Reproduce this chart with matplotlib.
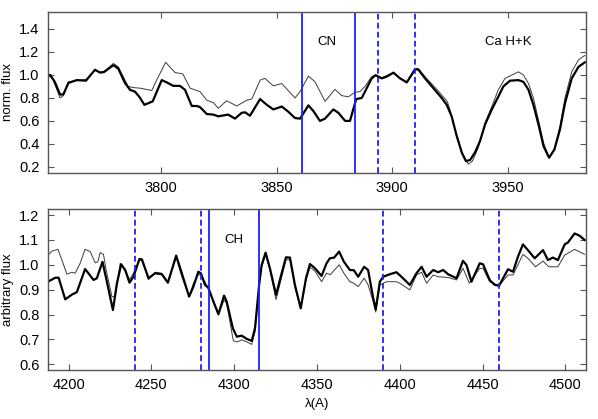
import matplotlib
matplotlib.use('Agg')
import matplotlib.pyplot as plt
import numpy as np

plt.rcParams['font.family'] = ['Liberation Sans', 'DejaVu Sans']

# top panel (CN / Ca H+K), thick = star, thin = comparison
top_wave_thick = [3751, 3752, 3754, 3756.3, 3757.7, 3759.9, 3761.3, 3763.5, 3767.5, 3771.4,
                  3773.6, 3775.3, 3779.4, 3781.5, 3784.4, 3786.6, 3788.7, 3790.6, 3792.8, 3796.4,
                  3800.3, 3802.5, 3805.3, 3808.2, 3810.4, 3813.3, 3815.5, 3816.9, 3819.8, 3822.6,
                  3824.8, 3829.1, 3832, 3834.9, 3836.4, 3838.5, 3842.9, 3845.8, 3848.6, 3852.3,
                  3855.1, 3858, 3860.2, 3863.8, 3866, 3868.8, 3871, 3874.6, 3876.8, 3879.7,
                  3881.8, 3884.5, 3886.9, 3888.3, 3891.2, 3892.9, 3895.5, 3897.7, 3900.6, 3903.5,
                  3906.4, 3910, 3911.4, 3914.3, 3917.9, 3921.5, 3923.7, 3925.8, 3928, 3930.2,
                  3932, 3933.8, 3935.9, 3938.1, 3940.3, 3943.2, 3946, 3948.2, 3951.1, 3954.7,
                  3956.9, 3959.1, 3961.2, 3963.4, 3965.6, 3968, 3970.3, 3972.7, 3974.9, 3977.8,
                  3980.7, 3983.5]
top_flux_thick = [0.99, 1.00, 0.94, 0.83, 0.83, 0.93, 0.94, 0.955, 0.95, 1.045,
                  1.02, 1.025, 1.085, 1.055, 0.93, 0.87, 0.855, 0.81, 0.74, 0.77,
                  0.955, 0.935, 0.905, 0.905, 0.87, 0.73, 0.73, 0.72, 0.66, 0.655,
                  0.64, 0.655, 0.62, 0.67, 0.675, 0.645, 0.79, 0.74, 0.70, 0.725,
                  0.68, 0.625, 0.62, 0.735, 0.685, 0.60, 0.62, 0.70, 0.67, 0.60,
                  0.60, 0.79, 0.80, 0.855, 0.97, 0.998, 0.97, 0.985, 1.02, 0.97,
                  0.935, 1.05, 1.047, 0.97, 0.885, 0.80, 0.74, 0.64, 0.47, 0.325,
                  0.25, 0.26, 0.325, 0.425, 0.57, 0.70, 0.81, 0.90, 0.95, 0.955,
                  0.94, 0.87, 0.74, 0.57, 0.38, 0.28, 0.35, 0.525, 0.755, 0.97,
                  1.07, 1.11]

top_wave_thin = [3751, 3753, 3756.3, 3757.7, 3759.9, 3764.8, 3767.5, 3771.4, 3773.6, 3775.3,
                 3779.4, 3781.5, 3785.8, 3788, 3790.9, 3796, 3798.1, 3802, 3806.1, 3809.4,
                 3812.6, 3816.9, 3819.8, 3822.6, 3824.8, 3828.4, 3832.8, 3837.1, 3839.3, 3842.9,
                 3845, 3848.6, 3852.3, 3858, 3860.2, 3863.8, 3866.7, 3871, 3875.3, 3878.2,
                 3881.1, 3884, 3886.1, 3888.3, 3891.2, 3892.9, 3895.5, 3900.6, 3903.5, 3906.4,
                 3910, 3911.4, 3914.3, 3919.6, 3923.9, 3925.1, 3928, 3930.2, 3933, 3934.8,
                 3937.4, 3940.3, 3943.2, 3946, 3948.9, 3951.8, 3954.7, 3956.9, 3959.1, 3961.2,
                 3963.4, 3965.6, 3968, 3970.3, 3972.7, 3974.9, 3977.8, 3980.7, 3983.5]
top_flux_thin = [1.0, 0.97, 0.80, 0.82, 0.94, 0.955, 0.96, 1.04, 1.025, 1.03,
                 1.10, 1.07, 0.90, 0.89, 0.885, 0.865, 0.955, 1.11, 1.02, 1.01,
                 0.885, 0.855, 0.78, 0.76, 0.71, 0.775, 0.73, 0.78, 0.79, 0.955,
                 0.97, 0.905, 0.925, 0.80, 0.855, 0.99, 0.94, 0.77, 0.875, 0.82,
                 0.81, 0.85, 0.855, 0.90, 0.985, 1.0, 0.975, 1.02, 0.97, 0.94,
                 1.055, 1.055, 0.985, 0.87, 0.77, 0.70, 0.47, 0.325, 0.224, 0.25,
                 0.37, 0.585, 0.725, 0.87, 0.97, 0.998, 1.027, 1.0, 0.925, 0.80,
                 0.61, 0.41, 0.28, 0.36, 0.55, 0.80, 1.027, 1.13, 1.17]

# bottom panel (CH)
bot_wave_thick = [4187.6, 4192, 4194, 4198, 4202, 4205, 4210, 4215.1, 4217.1, 4220.5,
                  4222.7, 4226.8, 4229.2, 4231.8, 4234.2, 4236.8, 4239.2, 4242.8, 4244.3, 4248.3,
                  4252.3, 4256.3, 4260, 4265, 4268.4, 4272.8, 4275.4, 4278.4, 4280, 4282.4,
                  4284.4, 4287.5, 4290.5, 4293.9, 4295.5, 4299.2, 4301.6, 4304.6, 4307.6, 4310.6,
                  4312.6, 4315.2, 4316.6, 4319, 4321.6, 4325.3, 4328.7, 4331.3, 4333.7, 4336.7,
                  4340.2, 4343.4, 4345.8, 4348.8, 4352.8, 4355.8, 4357.8, 4360.4, 4363.4, 4366.3,
                  4369.9, 4372.3, 4374.9, 4378.5, 4380.9, 4384, 4385.5, 4388, 4390, 4394,
                  4398, 4401, 4406.1, 4410.1, 4413.2, 4416.2, 4420.2, 4423.2, 4426.2, 4429.2,
                  4434.3, 4438.2, 4440.3, 4443.3, 4448.3, 4450.3, 4454.3, 4457.4, 4460, 4462.4,
                  4465.4, 4468.4, 4471.4, 4474.4, 4477.4, 4481.5, 4486.5, 4489.5, 4492.5, 4495.5,
                  4499.6, 4501.6, 4505.6, 4508.6, 4511.6]
bot_flux_thick = [0.932, 0.948, 0.948, 0.861, 0.88, 0.89, 0.983, 0.939, 0.946, 1.012,
                  0.946, 0.818, 0.925, 1.002, 0.979, 0.928, 0.952, 1.023, 1.022, 0.946,
                  0.966, 0.962, 0.928, 1.037, 0.966, 0.872, 0.912, 0.972, 0.965, 0.919,
                  0.908, 0.852, 0.801, 0.876, 0.852, 0.745, 0.711, 0.715, 0.702, 0.694,
                  0.745, 0.926, 0.999, 1.049, 0.986, 0.879, 0.966, 1.03, 1.029, 0.919,
                  0.825, 0.946, 1.003, 0.986, 0.955, 1.006, 1.026, 1.029, 1.053, 1.012,
                  0.979, 0.978, 0.952, 0.992, 0.979, 0.865, 0.82, 0.932, 0.952, 0.962,
                  0.97, 0.952, 0.919, 0.966, 0.992, 0.952, 0.979, 0.97, 0.979, 0.962,
                  0.946, 1.016, 0.999, 0.932, 1.006, 1.002, 0.939, 0.919, 0.916, 0.946,
                  0.982, 0.972, 1.033, 1.082, 1.059, 1.026, 1.059, 1.019, 1.029, 1.019,
                  1.082, 1.090, 1.126, 1.117, 1.10]

bot_wave_thin = [4187.6, 4190, 4193.6, 4196, 4199, 4202, 4204, 4207, 4210, 4213.1,
                 4216.1, 4217.7, 4219.1, 4221.1, 4222.7, 4226.2, 4228.2, 4231.2, 4235.2, 4236.8,
                 4239.2, 4242.8, 4244.3, 4248.3, 4252.3, 4256.3, 4260, 4265, 4268.4, 4272.8,
                 4275.4, 4278.4, 4280, 4282.4, 4284.4, 4287.5, 4290.5, 4293.9, 4295.5, 4299.5,
                 4302, 4304.6, 4307.6, 4310.6, 4312.6, 4315.2, 4316.6, 4319, 4321.6, 4325.3,
                 4328.7, 4331.3, 4333.7, 4336.7, 4340.2, 4343.4, 4345.8, 4348.8, 4352.8, 4355.8,
                 4358, 4363.4, 4366.3, 4369.9, 4372.3, 4374.9, 4378.5, 4380.9, 4384, 4385.5,
                 4388, 4392, 4398, 4401, 4406.1, 4410.1, 4413.2, 4416.2, 4420.2, 4423.2,
                 4429.2, 4434.3, 4438.2, 4442, 4448.3, 4450.3, 4454.3, 4460, 4465.4, 4468.4,
                 4474.4, 4477.4, 4482, 4486.5, 4490, 4495.5, 4499.6, 4505.6, 4511.6]
bot_flux_thin = [1.039, 1.055, 1.062, 1.019, 0.962, 0.97, 0.966, 1.006, 1.062, 1.053,
                 1.008, 1.012, 1.049, 1.042, 0.979, 0.872, 0.872, 1.006, 0.966, 0.94,
                 0.966, 1.018, 1.018, 0.94, 0.97, 0.966, 0.932, 1.03, 0.952, 0.872,
                 0.925, 0.962, 0.955, 0.932, 0.905, 0.85, 0.80, 0.858, 0.845, 0.694,
                 0.69, 0.698, 0.69, 0.68, 0.73, 0.92, 0.99, 1.04, 0.98, 0.86,
                 0.95, 1.02, 1.02, 0.91, 0.825, 0.94, 0.99, 0.975, 0.932, 0.966,
                 0.96, 1.0, 0.966, 0.932, 0.926, 0.912, 0.946, 0.919, 0.852, 0.81,
                 0.919, 0.932, 0.932, 0.922, 0.899, 0.959, 0.97, 0.926, 0.959, 0.952,
                 0.949, 0.939, 0.986, 0.926, 0.986, 0.985, 0.932, 0.916, 0.959, 0.959,
                 1.042, 1.026, 0.992, 1.015, 0.992, 0.992, 1.039, 1.062, 1.042]

# band limits (solid) and continuum windows (dashed)
top_solid = [3861, 3884]
top_dashed = [3894, 3910]
bot_solid = [4285, 4315]
bot_dashed = [4240, 4280, 4390, 4460]

blue = '#1f1fff'
frame = '#555555'
dash = (0, (3.2, 1.8))

fig = plt.figure(figsize=(5.98, 4.19), dpi=100)
ax1 = fig.add_axes([0.080, 0.588, 0.900, 0.384])
ax2 = fig.add_axes([0.080, 0.117, 0.900, 0.384])

for ax in (ax1, ax2):
    for s in ax.spines.values():
        s.set_color(frame)
        s.set_linewidth(1.0)
    ax.tick_params(direction='in', top=True, right=True, length=4,
                   color=frame, labelsize=10.5, pad=6)

# top panel
ax1.plot(top_wave_thin, top_flux_thin, color='#3c3c3c', lw=0.7, solid_joinstyle='round')
ax1.plot(top_wave_thick, top_flux_thick, color='black', lw=1.6, solid_joinstyle='round')
for w in top_solid:
    ax1.axvline(w, color=blue, lw=1.3)
for w in top_dashed:
    ax1.axvline(w, color=blue, lw=1.3, ls=dash)
ax1.set_xlim(3751, 3984)
ax1.set_ylim(0.15, 1.55)
ax1.set_xticks([3800, 3850, 3900, 3950])
ax1.set_yticks([0.2, 0.4, 0.6, 0.8, 1.0, 1.2, 1.4])
ax1.yaxis.set_major_formatter(matplotlib.ticker.FormatStrFormatter('%.1f'))
ax1.set_ylabel('norm. flux', fontsize=9.5, labelpad=4)
ax1.text(3872, 1.285, 'CN', ha='center', va='center', fontsize=9.5)
ax1.text(3950.5, 1.285, 'Ca H+K', ha='center', va='center', fontsize=9.5)

# bottom panel
ax2.plot(bot_wave_thin, bot_flux_thin, color='#3c3c3c', lw=0.7, solid_joinstyle='round')
ax2.plot(bot_wave_thick, bot_flux_thick, color='black', lw=1.6, solid_joinstyle='round')
for w in bot_solid:
    ax2.axvline(w, color=blue, lw=1.3)
for w in bot_dashed:
    ax2.axvline(w, color=blue, lw=1.3, ls=dash)
ax2.set_xlim(4187.5, 4512.5)
ax2.set_ylim(0.577, 1.224)
ax2.set_xticks([4200, 4250, 4300, 4350, 4400, 4450, 4500])
ax2.set_yticks([0.6, 0.7, 0.8, 0.9, 1.0, 1.1, 1.2])
ax2.yaxis.set_major_formatter(matplotlib.ticker.FormatStrFormatter('%.1f'))
ax2.set_ylabel('arbitrary flux', fontsize=9.5, labelpad=4)
ax2.set_xlabel('λ(A)', fontsize=9.5, labelpad=4)
ax2.text(4300, 1.10, 'CH', ha='center', va='center', fontsize=9.5)

plt.savefig('out.png', dpi=100)
